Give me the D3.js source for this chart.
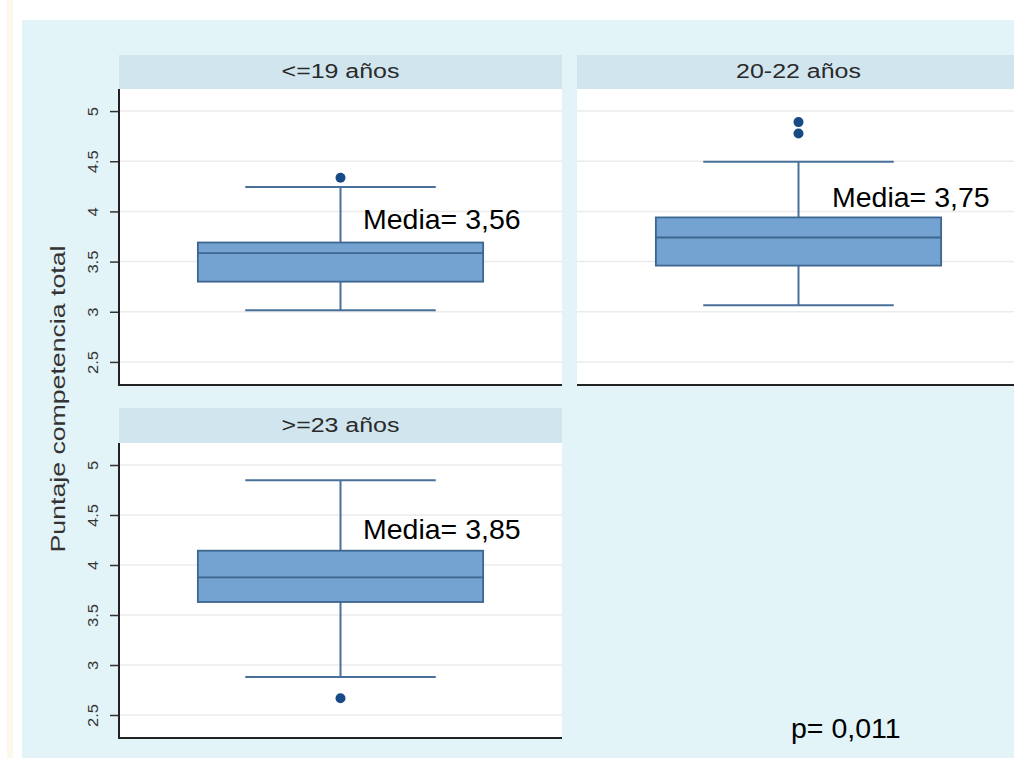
<!DOCTYPE html>
<html>
<head>
<meta charset="utf-8">
<script src="https://cdn.jsdelivr.net/npm/d3@7"></script>
<style>
  html, body { margin: 0; padding: 0; background: #ffffff; }
  svg { display: block; }
  text { font-family: "Liberation Sans", Arial, sans-serif; }
</style>
</head>
<body>
<svg id="chart" width="1014" height="758"></svg>
<script>
// ---- data ----
const groups = ["<=19 años", "20-22 años", ">=23 años"];
const q1 = [3.30, 3.46, 3.63];
const median = [3.585, 3.74, 3.877];
const q3 = [3.69, 3.94, 4.143];
const whiskerLow = [3.016, 3.066, 2.88];
const whiskerHigh = [4.243, 4.494, 4.847];
const outliers = [[4.335], [4.89, 4.776], [2.667]];
const meanLabels = ["Media= 3,56", "Media= 3,75", "Media= 3,85"];
const yTicks = [2.5, 3, 3.5, 4, 4.5, 5];
const yTickLabels = ["2.5", "3", "3.5", "4", "4.5", "5"];
const yTitle = "Puntaje competencia total";
const pValue = "p= 0,011";

// ---- layout ----
const svg = d3.select("#chart");
const W = 1014, H = 758;

svg.append("rect").attr("x", 0).attr("y", 0).attr("width", W).attr("height", H).attr("fill", "#ffffff");
svg.append("rect").attr("x", 7).attr("y", 0).attr("width", 6).attr("height", H).attr("fill", "#fdf9ea");
svg.append("rect").attr("x", 22).attr("y", 20).attr("width", W - 22).attr("height", H - 20).attr("fill", "#e2f4f8");

const panels = [
  { x0: 119, x1: 562, top: 89, bottom: 385, headerTop: 55, yAxis: true, mx: 244, my: 229 },
  { x0: 577, x1: 1020, top: 89, bottom: 385, headerTop: 55, yAxis: false, mx: 255, my: 207 },
  { x0: 119, x1: 562, top: 443, bottom: 738, headerTop: 408, yAxis: true, mx: 244, my: 539 }
];

const boxFill = "#74a2d1";
const boxStroke = "#3d6690";
const dotColor = "#184b86";

panels.forEach((p, i) => {
  const g = svg.append("g");
  const y = d3.scaleLinear().domain([2.27, 5.22]).range([p.bottom, p.top]);
  const x = d3.scaleLinear().domain([0, 1]).range([p.x0, p.x1]);

  // header strip
  g.append("rect").attr("x", p.x0).attr("y", p.headerTop)
    .attr("width", p.x1 - p.x0).attr("height", p.top - p.headerTop)
    .attr("fill", "#d1e5ef");
  const cx = x(0.5);
  g.append("text")
    .attr("transform", `translate(${cx},${p.top - 11}) scale(1.28,1)`)
    .attr("text-anchor", "middle")
    .attr("font-size", 19.5)
    .attr("fill", "#2a2a2a")
    .text(groups[i]);

  // plot area
  g.append("rect").attr("x", p.x0).attr("y", p.top)
    .attr("width", p.x1 - p.x0).attr("height", p.bottom - p.top)
    .attr("fill", "#ffffff");

  // gridlines
  g.selectAll(".grid").data(yTicks).enter().append("line")
    .attr("x1", p.x0).attr("x2", p.x1)
    .attr("y1", d => y(d)).attr("y2", d => y(d))
    .attr("stroke", "#ebebeb").attr("stroke-width", 1.5);

  // y axis
  if (p.yAxis) {
    const axis = d3.axisLeft(y).tickValues(yTicks)
      .tickFormat((d, k) => yTickLabels[k]).tickSize(9).tickPadding(0);
    const ag = g.append("g").attr("transform", `translate(${p.x0},0)`).call(axis);
    ag.select(".domain").remove();
    ag.selectAll(".tick line").attr("stroke", "#333").attr("stroke-width", 1.5);
    ag.selectAll(".tick text").remove();
    ag.selectAll(".tick").append("text")
      .attr("transform", "translate(-26,0) rotate(-90) scale(1.1,1)")
      .attr("text-anchor", "middle")
      .attr("dy", "0.35em")
      .attr("font-size", 15)
      .attr("fill", "#333333")
      .text((d, k) => yTickLabels[k]);
    g.append("line").attr("x1", p.x0).attr("x2", p.x0)
      .attr("y1", p.top).attr("y2", p.bottom + 1)
      .attr("stroke", "#222").attr("stroke-width", 2);
  }
  // x axis line
  g.append("line").attr("x1", p.x0 - (p.yAxis ? 1 : 0)).attr("x2", p.x1)
    .attr("y1", p.bottom).attr("y2", p.bottom)
    .attr("stroke", "#222").attr("stroke-width", 2);

  // whiskers
  const capHalf = 0.215, boxHalf = 0.322;
  g.append("line").attr("x1", cx).attr("x2", cx)
    .attr("y1", y(q3[i])).attr("y2", y(whiskerHigh[i]))
    .attr("stroke", "#4a6f98").attr("stroke-width", 2);
  g.append("line").attr("x1", cx).attr("x2", cx)
    .attr("y1", y(q1[i])).attr("y2", y(whiskerLow[i]))
    .attr("stroke", "#4a6f98").attr("stroke-width", 2);
  [whiskerHigh[i], whiskerLow[i]].forEach(v => {
    g.append("line").attr("x1", x(0.5 - capHalf)).attr("x2", x(0.5 + capHalf))
      .attr("y1", y(v)).attr("y2", y(v))
      .attr("stroke", "#4a6f98").attr("stroke-width", 2);
  });

  // box
  g.append("rect")
    .attr("x", x(0.5 - boxHalf)).attr("y", y(q3[i]))
    .attr("width", x(0.5 + boxHalf) - x(0.5 - boxHalf))
    .attr("height", y(q1[i]) - y(q3[i]))
    .attr("fill", boxFill).attr("stroke", boxStroke).attr("stroke-width", 1.8);
  g.append("line")
    .attr("x1", x(0.5 - boxHalf)).attr("x2", x(0.5 + boxHalf))
    .attr("y1", y(median[i])).attr("y2", y(median[i]))
    .attr("stroke", boxStroke).attr("stroke-width", 1.8);

  // outliers
  g.selectAll(".out").data(outliers[i]).enter().append("circle")
    .attr("cx", cx).attr("cy", d => y(d)).attr("r", 5)
    .attr("fill", dotColor);

  // mean annotation
  g.append("text")
    .attr("x", p.x0 + p.mx).attr("y", p.my)
    .attr("font-size", 28.5).attr("fill", "#000")
    .text(meanLabels[i]);
});

// y title
svg.append("text")
  .attr("transform", "translate(65,399) rotate(-90) scale(1.27,1)")
  .attr("text-anchor", "middle")
  .attr("font-size", 21)
  .attr("fill", "#333333")
  .text(yTitle);

// p value
svg.append("text")
  .attr("x", 791).attr("y", 738)
  .attr("font-size", 28.5).attr("fill", "#000")
  .text(pValue);
</script>
</body>
</html>
